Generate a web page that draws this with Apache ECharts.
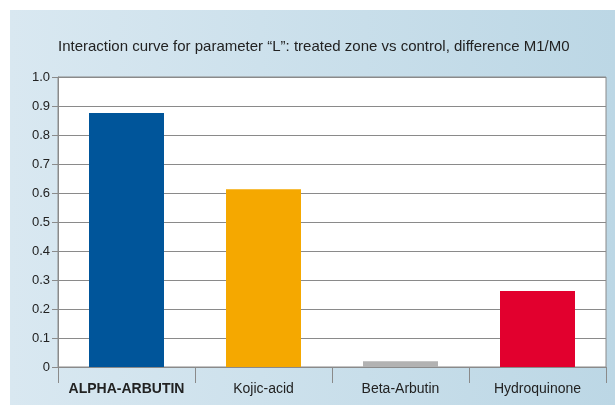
<!DOCTYPE html>
<html>
<head>
<meta charset="utf-8">
<script src="https://cdn.jsdelivr.net/npm/echarts@6/dist/echarts.min.js"></script>
<style>
  html, body { margin: 0; padding: 0; background: #fff; }
  #chart { width: 615px; height: 405px; }
</style>
</head>
<body>
<div id="chart"></div>
<script>
// categories and values
var categories = ['ALPHA-ARBUTIN', 'Kojic-acid', 'Beta-Arbutin', 'Hydroquinone'];
var values = [0.876, 0.613, 0.02, 0.262];
var barColors = ['#00559a', '#f5a800', '#b2b2b2', '#e2002e'];
var titleText = 'Interaction curve for parameter \u201cL\u201d: treated zone vs control, difference M1/M0';

var chart = echarts.init(document.getElementById('chart'));

var option = {
  animation: false,
  graphic: [
    {
      type: 'rect',
      z: -10,
      shape: { x: 10, y: 10, width: 605, height: 395 },
      style: {
        fill: new echarts.graphic.LinearGradient(0, 0, 1, 0, [
          { offset: 0, color: '#d9e8f1' },
          { offset: 1, color: '#bcd7e5' }
        ])
      }
    }
  ],
  title: {
    text: titleText,
    left: 53,
    top: 34,
    textStyle: {
      fontFamily: 'Liberation Sans, Arial',
      fontSize: 15,
      fontWeight: 'normal',
      color: '#222'
    }
  },
  grid: {
    left: 58,
    right: 9,
    top: 77,
    bottom: 38,
    show: true,
    backgroundColor: '#fff',
    borderColor: '#8a8a8a',
    borderWidth: 1
  },
  xAxis: {
    type: 'category',
    data: categories,
    axisLine: { lineStyle: { color: '#8a8a8a', width: 1 } },
    axisTick: { show: true, interval: 0, length: 16, lineStyle: { color: '#8a8a8a' } },
    axisLabel: {
      interval: 0,
      margin: 15,
      fontFamily: 'Liberation Sans, Arial',
      fontSize: 14,
      color: '#222',
      formatter: function (v, i) {
        return i === 0 ? '{b|' + v + '}' : v;
      },
      rich: {
        b: { fontWeight: 'bold', fontSize: 14, color: '#222', fontFamily: 'Liberation Sans, Arial' }
      }
    }
  },
  yAxis: {
    type: 'value',
    min: 0,
    max: 1,
    interval: 0.1,
    axisLine: { show: true, lineStyle: { color: '#8a8a8a' } },
    axisTick: { show: true, length: 6, lineStyle: { color: '#8a8a8a' } },
    splitLine: { show: true, lineStyle: { color: '#8a8a8a', width: 1 } },
    axisLabel: {
      margin: 8,
      fontFamily: 'Liberation Sans, Arial',
      fontSize: 13,
      color: '#222',
      formatter: function (v) {
        return v === 0 ? '0' : v.toFixed(1);
      }
    }
  },
  series: [
    {
      type: 'bar',
      barWidth: 75,
      data: values.map(function (v, i) {
        return { value: v, itemStyle: { color: barColors[i] } };
      })
    }
  ]
};

chart.setOption(option);
</script>
</body>
</html>
